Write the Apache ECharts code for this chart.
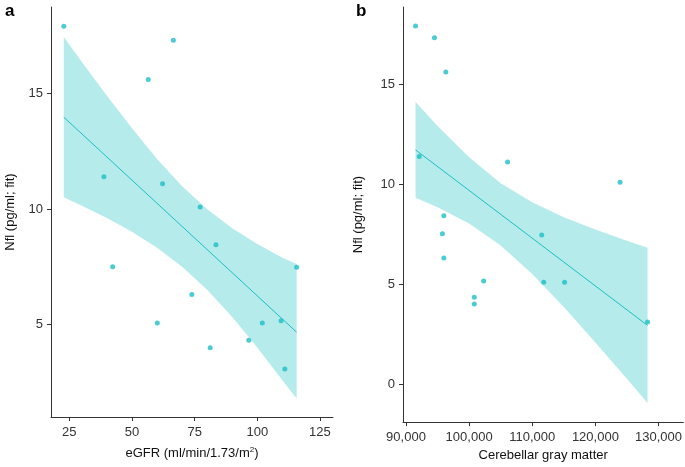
<!DOCTYPE html>
<html>
<head>
<meta charset="utf-8">
<script src="https://cdn.jsdelivr.net/npm/echarts@6/dist/echarts.min.js"></script>
<style>
html,body{margin:0;padding:0;background:#fff;}
#chart{width:685px;height:467px;}
</style>
</head>
<body>
<div id="chart"></div>
<script>
// ---- Panel a: eGFR vs Nfl ----
const egfrX = [22.8, 66.5, 56.5, 38.8, 62.2, 77.2, 83.5, 42.3, 115.7, 73.9, 60.1, 102.0, 109.5, 96.6, 81.2, 111.0];
const egfrNfl = [17.92, 17.31, 15.61, 11.40, 11.10, 10.09, 8.46, 7.50, 7.48, 6.30, 5.07, 5.07, 5.17, 4.32, 4.00, 3.08];
const egfrFitX = [22.8, 115.7];
const egfrFitY = [13.98, 4.67];
const egfrBandX = [22.8, 30, 40, 50, 60, 70, 80, 90, 100, 110, 115.7];
const egfrBandUpper = [17.45, 16.37, 14.91, 13.50, 12.17, 10.99, 9.99, 9.17, 8.49, 7.89, 7.62];
const egfrBandLower = [10.51, 10.15, 9.61, 9.02, 8.33, 7.51, 6.51, 5.33, 4.01, 2.59, 1.80];
const egfrXTicks = [25, 50, 75, 100, 125];
const egfrYTicks = [5, 10, 15];

// ---- Panel b: Cerebellar gray matter vs Nfl ----
const cgmX = [91514, 94511, 96309, 92098, 106088, 123912, 95994, 95773, 111498, 95994, 102303, 111814, 115126, 100820, 100820, 128265];
const cgmNfl = [17.90, 17.31, 15.60, 11.38, 11.10, 10.10, 8.42, 7.52, 7.46, 6.31, 5.16, 5.10, 5.10, 4.35, 4.01, 3.11];
const cgmFitX = [91514, 128265];
const cgmFitY = [11.71, 2.94];
const cgmBandX = [91514, 95000, 100000, 105000, 110000, 115000, 120000, 125000, 128265];
const cgmBandUpper = [14.10, 12.91, 11.34, 10.05, 9.09, 8.35, 7.73, 7.17, 6.82];
const cgmBandLower = [9.32, 8.85, 8.03, 6.93, 5.51, 3.86, 2.09, 0.27, -0.94];
const cgmXTicks = [90000, 100000, 110000, 120000, 130000];
const cgmYTicks = [0, 5, 10, 15];

const yTitle = 'Nfl (pg/ml; fit)';
const xTitleA = 'eGFR (ml/min/1.73/m{sup|2})';
const xTitleB = 'Cerebellar gray matter';

const teal = '#1DBFC4';
const bandFill = '#B5EBEB';
const axisColor = '#333';
const textColor = '#333';
const fontFamily = '"Liberation Sans", Arial, Helvetica, sans-serif';

function zip(a, b) { return a.map((v, i) => [v, b[i]]); }

function bandSeries(idx, xs, up, lo) {
  return {
    type: 'custom',
    xAxisIndex: idx, yAxisIndex: idx,
    silent: true, z: 1,
    data: [[xs[0], up[0]]],
    renderItem: function (params, api) {
      const pts = [];
      for (let i = 0; i < xs.length; i++) pts.push(api.coord([xs[i], up[i]]));
      for (let i = xs.length - 1; i >= 0; i--) pts.push(api.coord([xs[i], lo[i]]));
      return { type: 'polygon', shape: { points: pts }, style: { fill: bandFill } };
    }
  };
}

function fmtThousands(v) {
  return String(v).replace(/\B(?=(\d{3})+(?!\d))/g, ',');
}

function xAxis(idx, min, max, ticks, name, gap, formatter) {
  return {
    type: 'value', gridIndex: idx, min: min, max: max,
    name: name, nameLocation: 'middle', nameGap: gap,
    nameTextStyle: { color: '#111', fontSize: 13, fontFamily: fontFamily,
      rich: { sup: { fontSize: 8, verticalAlign: 'top', padding: [0, 0, 6, 0], color: '#111', fontFamily: fontFamily } } },
    splitLine: { show: false },
    axisLine: { show: true, onZero: false, lineStyle: { color: axisColor, width: 1 } },
    axisTick: { show: true, length: 4, lineStyle: { color: axisColor }, customValues: ticks },
    axisLabel: { color: textColor, fontSize: 13, fontFamily: fontFamily, margin: 9, customValues: ticks,
      formatter: formatter || (v => String(v)) }
  };
}

function yAxis(idx, min, max, ticks, gap) {
  return {
    type: 'value', gridIndex: idx, min: min, max: max,
    name: yTitle, nameLocation: 'middle', nameGap: gap, nameRotate: 90,
    nameTextStyle: { color: '#111', fontSize: 13, fontFamily: fontFamily },
    splitLine: { show: false },
    axisLine: { show: true, onZero: false, lineStyle: { color: axisColor, width: 1 } },
    axisTick: { show: true, length: 4, lineStyle: { color: axisColor }, customValues: ticks },
    axisLabel: { color: textColor, fontSize: 13, fontFamily: fontFamily, margin: 8, customValues: ticks }
  };
}

const chart = echarts.init(document.getElementById('chart'), null, { renderer: 'canvas' });
chart.setOption({
  animation: false,
  backgroundColor: '#fff',
  title: [
    { text: 'a', left: 0, top: -2, textStyle: { fontSize: 17, fontWeight: 'bold', color: '#000', fontFamily: fontFamily } },
    { text: 'b', left: 351, top: -2, textStyle: { fontSize: 17, fontWeight: 'bold', color: '#000', fontFamily: fontFamily } }
  ],
  grid: [
    { left: 51, top: 7, width: 282, height: 410 },
    { left: 403, top: 7, width: 281, height: 416 }
  ],
  xAxis: [
    xAxis(0, 17.7, 130.2, egfrXTicks, xTitleA, 29),
    xAxis(1, 89527, 133940, cgmXTicks, xTitleB, 24, fmtThousands)
  ],
  yAxis: [
    yAxis(0, 1.0, 18.75, egfrYTicks, 34),
    yAxis(1, -1.89, 18.85, cgmYTicks, 38)
  ],
  series: [
    bandSeries(0, egfrBandX, egfrBandUpper, egfrBandLower),
    bandSeries(1, cgmBandX, cgmBandUpper, cgmBandLower),
    { type: 'line', xAxisIndex: 0, yAxisIndex: 0, data: zip(egfrFitX, egfrFitY), symbol: 'none',
      lineStyle: { color: teal, width: 1 }, z: 2, silent: true },
    { type: 'line', xAxisIndex: 1, yAxisIndex: 1, data: zip(cgmFitX, cgmFitY), symbol: 'none',
      lineStyle: { color: teal, width: 1 }, z: 2, silent: true },
    { type: 'scatter', xAxisIndex: 0, yAxisIndex: 0, data: zip(egfrX, egfrNfl), symbolSize: 5,
      itemStyle: { color: teal }, z: 3 },
    { type: 'scatter', xAxisIndex: 1, yAxisIndex: 1, data: zip(cgmX, cgmNfl), symbolSize: 5,
      itemStyle: { color: teal }, z: 3 }
  ]
});
</script>
</body>
</html>
